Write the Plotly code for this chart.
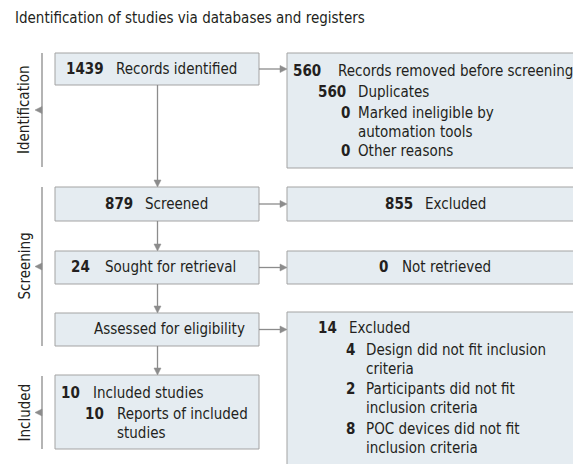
import plotly.graph_objects as go

# ---- data (counts shown in the PRISMA flow diagram) ----
title_text = "Identification of studies via databases and registers"
stage_labels = ["Identification", "Screening", "Included"]
records_identified = 1439
records_removed = 560
removed_reasons = ["Duplicates", "Marked ineligible by<br>automation tools", "Other reasons"]
removed_counts = [560, 0, 0]
screened = 879
screened_excluded = 855
sought = 24
not_retrieved = 0
excluded_total = 14
excluded_reasons = ["Design did not fit inclusion<br>criteria", "Participants did not fit<br>inclusion criteria",
                    "POC devices did not fit<br>inclusion criteria"]
excluded_counts = [4, 2, 8]
included_studies = 10
included_reports = 10

W, H = 581, 464
OFF = 8  # page body margin of the html page
FONT = "Liberation Sans Narrow, DejaVu Sans Condensed, Arial Narrow, sans-serif"
FS = 15
TXT = "#231f20"
FILL = "#e5ecf1"
BORDER = "#a3a3a3"
LINEC = "#8c8c8c"

shapes = []
annotations = []

def box(x0, y0, x1, y1):
    shapes.append(dict(type="rect", x0=x0, y0=y0, x1=x1, y1=y1, xref="x", yref="y",
                       fillcolor=FILL, line=dict(color=BORDER, width=1), layer="below"))

def line(x0, y0, x1, y1):
    shapes.append(dict(type="line", x0=x0, y0=y0, x1=x1, y1=y1, xref="x", yref="y",
                       line=dict(color=LINEC, width=1.3)))

def tri(path):
    shapes.append(dict(type="path", path=path, xref="x", yref="y",
                       fillcolor=LINEC, line=dict(color=LINEC, width=0.5)))

def arrow_right(x0, x1, y):
    line(x0, y, x1 - 6, y)
    tri(f"M {x1} {y} L {x1-7} {y-3.5} L {x1-7} {y+3.5} Z")

def arrow_down(x, y0, y1):
    line(x, y0, x, y1 - 6)
    tri(f"M {x} {y1} L {x-3.5} {y1-7} L {x+3.5} {y1-7} Z")

def bracket(y0, y1, label):
    x = 42
    line(x, y0, x, y1)
    ym = (y0 + y1) / 2
    tri(f"M {x-7} {ym} L {x} {ym-3.5} L {x} {ym+3.5} Z")
    annotations.append(dict(x=24, y=ym, text=label, textangle=-90, showarrow=False,
                            xanchor="center", yanchor="middle",
                            font=dict(family=FONT, size=FS, color=TXT)))

def num(x, y, n):
    annotations.append(dict(x=x, y=y, text=f"<b>{n}</b>", showarrow=False, xanchor="right",
                            yanchor="middle", font=dict(family=FONT, size=FS, color=TXT)))

def txt(x, y, t, size=FS):
    annotations.append(dict(x=x, y=y, text=t, showarrow=False, xanchor="left", align="left",
                            yanchor="middle", font=dict(family=FONT, size=size, color=TXT)))

def item(xn, xt, y, n, t):
    num(xn, y, n)
    parts = t.split("<br>")
    for i, p in enumerate(parts):
        txt(xt, y + i * 18.5, p)

# title
txt(13, 18, title_text, size=15)

# left column boxes
LX0, LX1 = 55, 259
RX0, RX1 = 287, 579
box(LX0, 53, LX1, 85)
box(LX0, 187, LX1, 221)
box(LX0, 251, LX1, 284)
box(LX0, 313, LX1, 346)
box(LX0, 375, LX1, 449)
# right column boxes
box(RX0, 53, RX1, 168)
box(RX0, 187, RX1, 221)
box(RX0, 251, RX1, 284)
box(RX0, 312, RX1, 470)

# arrows
arrow_down(157.5, 85, 187)
arrow_down(157.5, 221, 251)
arrow_down(157.5, 284, 313)
arrow_down(157.5, 346, 375)
arrow_right(LX1, RX0, 69)
arrow_right(LX1, RX0, 204)
arrow_right(LX1, RX0, 267.5)
arrow_right(LX1, RX0, 329.5)

# stage brackets
bracket(53, 167, stage_labels[0])
bracket(187, 346, stage_labels[1])
bracket(376, 449, stage_labels[2])

# left column text
item(106, 114, 69, records_identified, "Records identified")
item(135, 143, 204, screened, "Screened")
item(92, 103, 267, sought, "Sought for retrieval")
txt(92, 329, "Assessed for eligibility")
item(82, 91, 393, included_studies, "Included studies")
item(106, 115, 414, included_reports, "Reports of included<br>studies")

# right column text
item(323, 336, 71, records_removed, "Records removed before screening")
item(348, 356, 92, removed_counts[0], removed_reasons[0])
item(352, 356, 113, removed_counts[1], removed_reasons[1])
item(352, 356, 151, removed_counts[2], removed_reasons[2])
item(415, 423, 204, screened_excluded, "Excluded")
item(390, 400, 267, not_retrieved, "Not retrieved")
item(339, 347, 328, excluded_total, "Excluded")
ys = [350, 389, 429]
for yy, c, r in zip(ys, excluded_counts, excluded_reasons):
    item(357, 364, yy, c, r)

fig = go.Figure()
fig.update_layout(
    width=W - OFF, height=H - OFF, margin=dict(l=0, r=0, t=0, b=0),
    paper_bgcolor="white", plot_bgcolor="white",
    xaxis=dict(range=[OFF, W], visible=False, fixedrange=True),
    yaxis=dict(range=[H, OFF], visible=False, fixedrange=True),
    shapes=shapes, annotations=annotations, showlegend=False,
)
fig.write_html("out.html")
